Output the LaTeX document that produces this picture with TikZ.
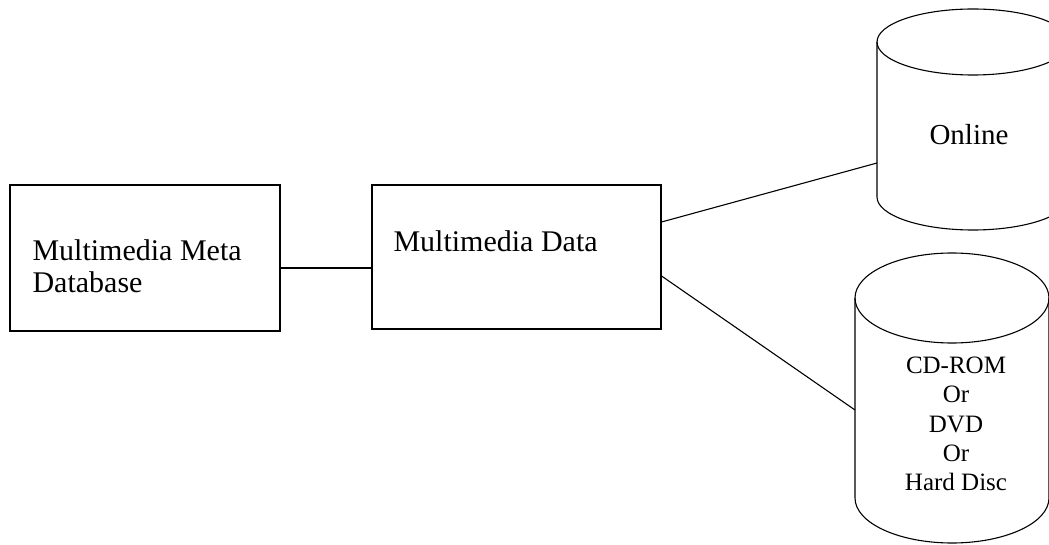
\documentclass[tikz,border=0pt]{standalone}
\usepackage{fontspec}
\setmainfont{Liberation Serif}
\usetikzlibrary{calc}
\begin{document}
\begin{tikzpicture}[x=1pt,y=1pt,line width=1.1pt,
    box/.style={draw,rectangle,inner sep=0pt},
    boxtext/.style={inner sep=0pt,font=\fontsize{30}{32}\selectfont,align=left},
    disctext/.style={inner sep=0pt,font=\fontsize{25}{29.3}\selectfont,align=center}]
  \useasboundingbox (0,0) rectangle (1049,544);
  \clip (0,0) rectangle (1049,544);
  % the two boxes
  \node[box,minimum width=270pt,minimum height=146pt] (meta) at (145,286) {};
  \node[box,minimum width=289pt,minimum height=144pt] (data) at (516.5,287) {};
  \node[boxtext,anchor=west] (metatext) at (32,278) {Multimedia Meta\\Database};
  \node[boxtext,anchor=base west] (datatext) at (393,292) {Multimedia Data};
  % online store
  \draw (877,502) -- (877,347) arc[start angle=180,end angle=360,x radius=96,y radius=33] -- (1069,502);
  \draw (973,502) ellipse[x radius=96,y radius=33];
  \node[boxtext,anchor=base,font=\fontsize{29}{32}\selectfont] (online) at (969,399) {Online};
  \coordinate (onlinein) at (877,381);
  % offline store
  \draw (855,246) -- (855,46) arc[start angle=180,end angle=360,x radius=97,y radius=45] -- (1049,246);
  \draw (952,246) ellipse[x radius=97,y radius=45];
  \node[disctext] (cd) at (956,120) {CD-ROM\\Or\\DVD\\Or\\Hard Disc};
  \coordinate (cdin) at (855,134);
  % connectors
  \draw ([yshift=-10pt]meta.east) -- ([yshift=-10pt]meta.east -| data.west);
  \draw ([yshift=35pt]data.east) -- (onlinein);
  \draw ([yshift=-19pt]data.east) -- (cdin);
\end{tikzpicture}
\end{document}
